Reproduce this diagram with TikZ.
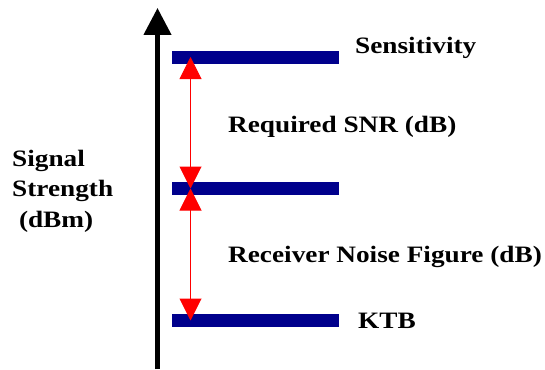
\documentclass[tikz,border=0pt]{standalone}
\usepackage{fontspec}
\setmainfont{Liberation Serif}[FakeStretch=1.16]
\usetikzlibrary{positioning, arrows.meta, calc}

\begin{document}
\begin{tikzpicture}[
    x=1pt, y=-1pt,
    bar/.style={rectangle, fill=navy, inner sep=0pt, minimum width=167pt, minimum height=13pt},
    label/.style={anchor=base west, inner sep=0pt, font=\fontsize{23.5}{30.5}\selectfont\bfseries},
    axis/.style={line width=4.5pt, -{Triangle[length=27pt, width=27pt]}},
    arrow/.style={red, line width=1pt, {Triangle[length=22pt, width=22pt]}-{Triangle[length=22pt, width=22pt]}}
]

% Colors
\definecolor{navy}{RGB}{0, 0, 140} % level bars

\useasboundingbox (0,0) rectangle (545,369);

% Axis
\coordinate (base) at (157.5,369);
\coordinate (peak) at (157.5,8);
\draw[axis] (base) -- (peak);

% Nodes
\node (sensbar) [bar, anchor=west] at (172,57) {};
\node (midbar) [bar, anchor=west] at (172,188.5) {};
\node (ktbbar) [bar, anchor=west] at (172,320.5) {};

\node (sens) [label] at (355,53) {Sensitivity};
\node (snr) [label] at (228,132) {Required SNR (dB)};
\node (nf) [label] at (228,262) {Receiver Noise Figure (dB)};
\node (ktb) [label] at (358,328) {KTB};

% base of a multi-line node is its last line
\node (yaxis) [label, align=left] at (12,227) {Signal\\Strength\\\ (dBm)};

% Edges
\draw[arrow] ([xshift=18.5pt]midbar.west) -- ([xshift=18.5pt]sensbar.west);
\draw[arrow] ([xshift=18.5pt]midbar.west) -- ([xshift=18.5pt]ktbbar.west);

\end{tikzpicture}
\end{document}
